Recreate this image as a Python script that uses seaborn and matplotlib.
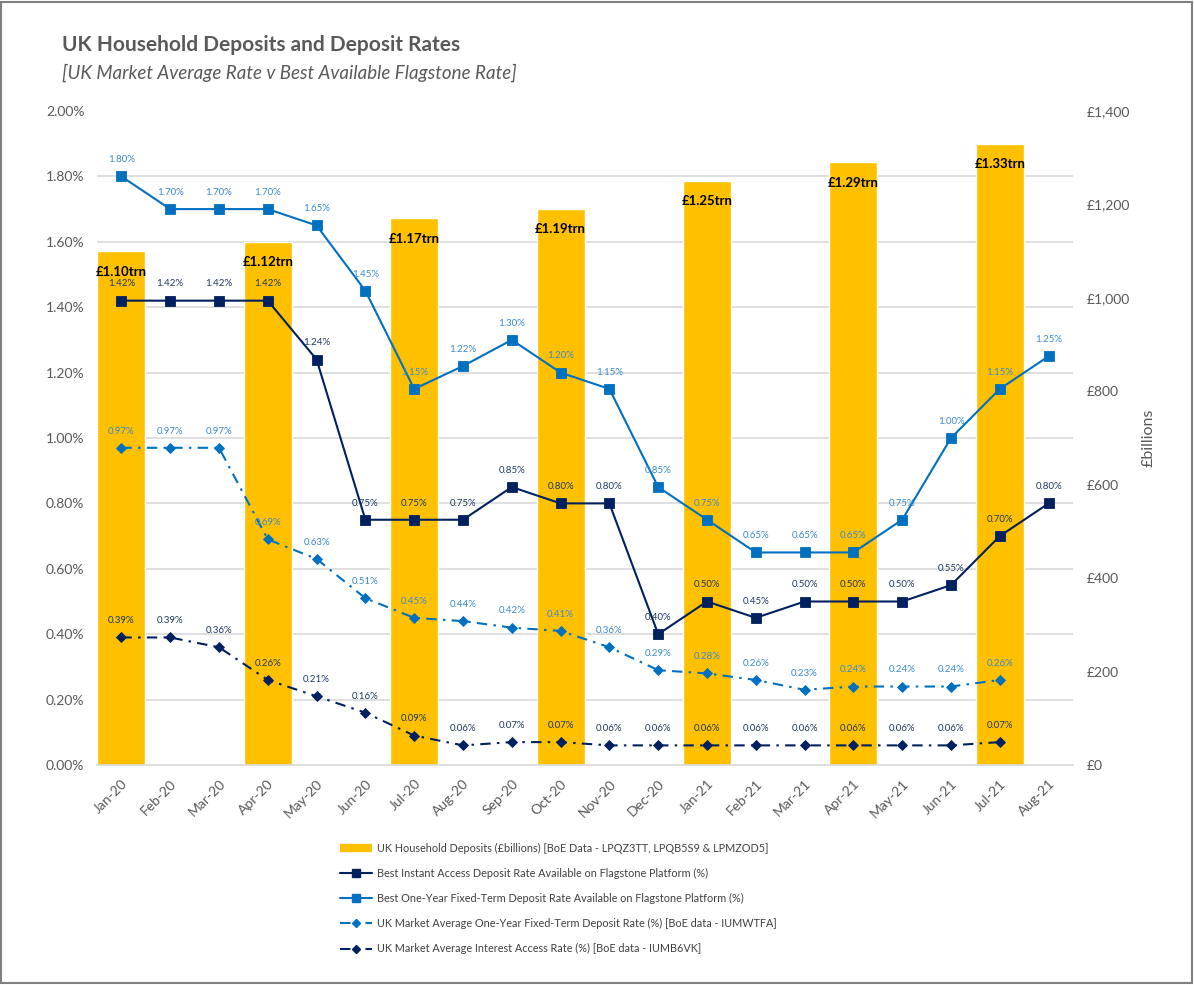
import matplotlib
matplotlib.use("Agg")
import numpy as np
import pandas as pd
import seaborn as sns
import matplotlib.pyplot as plt
from matplotlib.ticker import FuncFormatter, MultipleLocator, FixedLocator
from matplotlib.lines import Line2D
from matplotlib.patches import Rectangle

# ---------------- data ----------------
months = ["Jan-20", "Feb-20", "Mar-20", "Apr-20", "May-20", "Jun-20", "Jul-20",
          "Aug-20", "Sep-20", "Oct-20", "Nov-20", "Dec-20", "Jan-21", "Feb-21",
          "Mar-21", "Apr-21", "May-21", "Jun-21", "Jul-21", "Aug-21"]

deposit_months = ["Jan-20", "Apr-20", "Jul-20", "Oct-20", "Jan-21", "Apr-21", "Jul-21"]
deposits_bn = [1100, 1120, 1170, 1190, 1250, 1290, 1330]
deposit_labels = ["£1.10trn", "£1.12trn", "£1.17trn", "£1.19trn", "£1.25trn", "£1.29trn", "£1.33trn"]

best_instant = [1.42, 1.42, 1.42, 1.42, 1.24, 0.75, 0.75, 0.75, 0.85, 0.80,
                0.80, 0.40, 0.50, 0.45, 0.50, 0.50, 0.50, 0.55, 0.70, 0.80]
best_fixed = [1.80, 1.70, 1.70, 1.70, 1.65, 1.45, 1.15, 1.22, 1.30, 1.20,
              1.15, 0.85, 0.75, 0.65, 0.65, 0.65, 0.75, 1.00, 1.15, 1.25]
mkt_fixed = [0.97, 0.97, 0.97, 0.69, 0.63, 0.51, 0.45, 0.44, 0.42, 0.41,
             0.36, 0.29, 0.28, 0.26, 0.23, 0.24, 0.24, 0.24, 0.26, np.nan]
mkt_access = [0.39, 0.39, 0.36, 0.26, 0.21, 0.16, 0.09, 0.06, 0.07, 0.07,
              0.06, 0.06, 0.06, 0.06, 0.06, 0.06, 0.06, 0.06, 0.07, np.nan]

legend_labels = [
    "UK Household Deposits (£billions) [BoE Data - LPQZ3TT, LPQB5S9 & LPMZOD5]",
    "Best Instant Access Deposit Rate Available on Flagstone Platform (%)",
    "Best One-Year Fixed-Term Deposit Rate Available on Flagstone Platform (%)",
    "UK Market Average One-Year Fixed-Term Deposit Rate (%) [BoE data - IUMWTFA]",
    "UK Market Average Interest Access Rate (%) [BoE data - IUMB6VK]",
]

# ---------------- style ----------------
sns.set_theme(style="white")
plt.rcParams["font.family"] = ["Lato", "DejaVu Sans"]

GOLD = "#FFC000"
NAVY = "#002060"
BLUE = "#0070C0"
NAVY_TXT = "#203864"
BLUE_TXT = "#3A8AD0"
GRAY = "#595959"
GRID = "#D9D9D9"
DASHDOT = (0, (5, 3, 1.2, 3))

fig = plt.figure(figsize=(11.94, 9.85), dpi=100)
ax = fig.add_axes([97 / 1194, 1 - 765 / 985, (1073 - 97) / 1194, (765 - 111) / 985])
ax2 = ax.twinx()
ax.set_zorder(ax2.get_zorder() + 1)
ax.patch.set_visible(False)

idx = np.arange(len(months))

# bars (right axis)
dep_df = pd.DataFrame({"month": deposit_months, "deposits": deposits_bn})
sns.barplot(data=dep_df, x="month", y="deposits", order=months, color=GOLD,
            saturation=1, width=0.98, ax=ax2)
ax2.bar_label(ax2.containers[0], labels=deposit_labels, padding=-19,
              fontsize=9.5, fontweight="bold", color="black")

# lines (left axis)
series = [
    (best_fixed, BLUE, "s", 7, "-", BLUE_TXT),
    (best_instant, NAVY, "s", 7, "-", NAVY_TXT),
    (mkt_fixed, BLUE, "D", 5, DASHDOT, BLUE_TXT),
    (mkt_access, NAVY, "D", 5, DASHDOT, NAVY_TXT),
]
for vals, col, mk, ms, ls, tcol in series:
    df = pd.DataFrame({"x": idx, "y": vals}).dropna()
    sns.lineplot(data=df, x="x", y="y", ax=ax, color=col, marker=mk,
                 markersize=ms, linewidth=1.5, linestyle=ls,
                 markeredgecolor=col, markeredgewidth=0.6)
    for xi, yi in zip(df["x"], df["y"]):
        ax.annotate(f"{yi:.2f}%", (xi, yi), xytext=(0, 12),
                    textcoords="offset points", ha="center", va="center",
                    fontsize=7, color=tcol)

# axes formatting
ax.set_xlim(-0.5, len(months) - 0.5)
ax.set_ylim(0, 2.0)
ax.yaxis.set_major_locator(MultipleLocator(0.2))
ax.yaxis.set_major_formatter(FuncFormatter(lambda v, p: f"{v:.2f}%"))
ax.set_xticks(idx)
ax.set_xticklabels(months, rotation=45, ha="right", rotation_mode="anchor")
ax.xaxis.set_minor_locator(FixedLocator(np.arange(len(months) + 1) - 0.5))
ax.tick_params(axis="x", which="major", length=0, pad=9, labelsize=10, labelcolor=GRAY)
ax.tick_params(axis="x", which="minor", length=6, color=GRID, width=1)
ax.tick_params(axis="y", length=0, pad=9, labelsize=10, labelcolor=GRAY)
ax.set_xlabel("")
ax.set_ylabel("")
ax.grid(False)
for s in ["left", "right", "top"]:
    ax.spines[s].set_visible(False)
ax.spines["bottom"].set_color(GRID)
ax.spines["bottom"].set_linewidth(1.2)

ax2.set_ylim(0, 1400)
ax2.yaxis.set_major_locator(MultipleLocator(200))
ax2.yaxis.set_major_formatter(FuncFormatter(lambda v, p: f"£{v:,.0f}"))
ax2.yaxis.set_minor_locator(MultipleLocator(140))
ax2.grid(False)
ax2.grid(which="minor", axis="y", color=GRID, linewidth=1.2)
ax2.set_axisbelow(True)
ax2.tick_params(axis="y", which="both", length=0, pad=10, labelsize=10, labelcolor=GRAY)
ax2.set_xlabel("")
ax2.set_ylabel("£billions", color=GRAY, fontsize=11.5, labelpad=8)
for s in ax2.spines.values():
    s.set_visible(False)

# titles
fig.text(62 / 1194, 1 - 45 / 985, "UK Household Deposits and Deposit Rates",
         fontsize=15, fontweight="bold", color=GRAY, va="center", ha="left")
fig.text(62 / 1194, 1 - 73 / 985, "[UK Market Average Rate v Best Available Flagstone Rate]",
         fontsize=13.5, fontstyle="italic", color=GRAY, va="center", ha="left")

# legend
handles = [
    Line2D([], [], color=GOLD, lw=6, solid_capstyle="butt"),
    Line2D([], [], color=NAVY, lw=1.5, marker="s", markersize=5.5),
    Line2D([], [], color=BLUE, lw=1.5, marker="s", markersize=5.5),
    Line2D([], [], color=BLUE, lw=1.5, ls=DASHDOT, marker="D", markersize=4.5),
    Line2D([], [], color=NAVY, lw=1.5, ls=DASHDOT, marker="D", markersize=4.5),
]
fig.legend(handles, legend_labels, loc="upper left",
           bbox_to_anchor=(330 / 1194, 1 - 833 / 985), frameon=False,
           fontsize=7.8, labelcolor="#404040", handlelength=3.0,
           labelspacing=1.3, handletextpad=0.4)

# outer border
fig.patches.append(Rectangle((0.001, 0.002), 0.997, 0.996, transform=fig.transFigure,
                             fill=False, edgecolor="#808080", linewidth=1.5))

fig.savefig("out.png", dpi=100)
